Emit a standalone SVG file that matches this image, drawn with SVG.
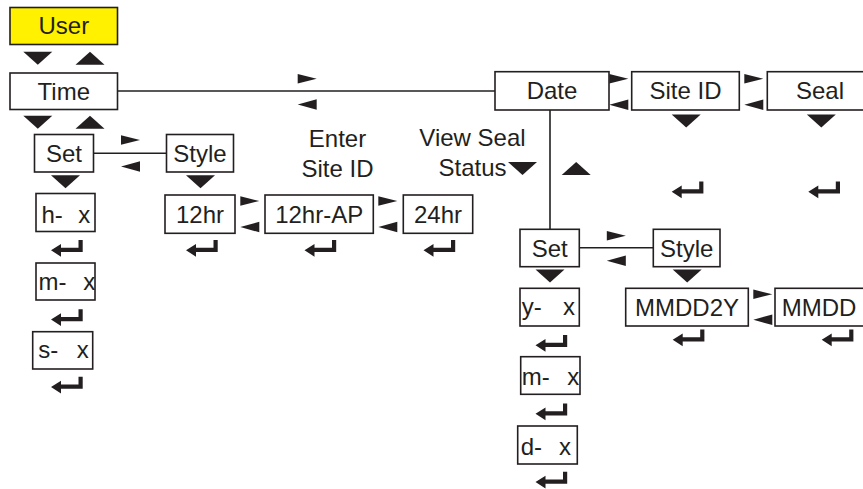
<svg xmlns="http://www.w3.org/2000/svg" width="863" height="489" viewBox="0 0 863 489">
<style>
  .box { fill: #ffffff; stroke: #231f20; stroke-width: 1.6; }
  .hl { fill: #fff100; }
  .t { font-family: "Liberation Sans", Arial, sans-serif; font-size: 24px; fill: #231f20; }
  .c { text-anchor: middle; }
  .ln { stroke: #231f20; stroke-width: 1.6; fill: none; }
  .tri { fill: #231f20; }
</style>
<defs>
  <path id="ret" d="M0,10.3 L10,4 L10,7.8 L27.5,7.8 L27.5,0 L31.7,0 L31.7,12 L10,12 L10,16.7 Z" fill="#231f20"/>
  <path id="dn" d="M0,0 L29,0 L14.5,13 Z" fill="#231f20"/>
  <path id="up" d="M0,13 L29,13 L14.5,0 Z" fill="#231f20"/>
  <path id="rt" d="M0,0 L19,4.75 L0,9.5 Z" fill="#231f20"/>
  <path id="lt" d="M19,0 L0,5.25 L19,10.5 Z" fill="#231f20"/>
</defs>

<g id="connectors">
  <line class="ln" x1="117.7" y1="91" x2="495" y2="91"/>
  <line class="ln" x1="93.5" y1="153.3" x2="166.5" y2="153.3"/>
  <line class="ln" x1="550" y1="110" x2="550" y2="229.3"/>
  <line class="ln" x1="579.3" y1="247.7" x2="653.3" y2="247.7"/>
</g>

<g id="indicators">
  <!-- vertical navigation triangles -->
  <use href="#dn" x="23.3" y="51.7"/>
  <use href="#up" x="75.5" y="51.7"/>
  <use href="#dn" x="23.3" y="115.7"/>
  <use href="#up" x="75.5" y="115.7"/>
  <use href="#dn" x="51" y="175.3"/>
  <use href="#dn" x="186" y="175.3"/>
  <use href="#dn" x="671.7" y="114.5"/>
  <use href="#dn" x="806.8" y="114.5"/>
  <use href="#dn" x="508" y="162"/>
  <use href="#up" x="561.7" y="162"/>
  <use href="#dn" x="535.5" y="269.5"/>
  <use href="#dn" x="672.7" y="269.5"/>
  <!-- horizontal navigation arrows -->
  <use href="#rt" x="297.7" y="74"/>
  <use href="#lt" x="297.7" y="99.3"/>
  <use href="#rt" x="121" y="135.3"/>
  <use href="#lt" x="121" y="161.2"/>
  <use href="#rt" x="240.3" y="196.2"/>
  <use href="#lt" x="240.3" y="221.8"/>
  <use href="#rt" x="378.3" y="196.2"/>
  <use href="#lt" x="378.3" y="221.8"/>
  <use href="#rt" x="609.3" y="74"/>
  <use href="#lt" x="609.3" y="99.5"/>
  <use href="#rt" x="744.3" y="74"/>
  <use href="#lt" x="744.3" y="99.5"/>
  <use href="#rt" x="606.8" y="231"/>
  <use href="#lt" x="606.8" y="255.5"/>
  <use href="#rt" x="753.3" y="289.5"/>
  <use href="#lt" x="753.3" y="314.5"/>
  <!-- enter (return) symbols -->
  <use href="#ret" x="51" y="240"/>
  <use href="#ret" x="51" y="309.3"/>
  <use href="#ret" x="51" y="376.7"/>
  <use href="#ret" x="186" y="240"/>
  <use href="#ret" x="304.5" y="240"/>
  <use href="#ret" x="423.5" y="240"/>
  <use href="#ret" x="671.7" y="181.5"/>
  <use href="#ret" x="808.3" y="181.5"/>
  <use href="#ret" x="672.7" y="329.5"/>
  <use href="#ret" x="821.7" y="329.5"/>
  <use href="#ret" x="535.5" y="335"/>
  <use href="#ret" x="535.5" y="403.5"/>
  <use href="#ret" x="535.5" y="471.7"/>
</g>

<g id="labels">
  <text class="t c" x="337.5" y="147.3">Enter</text>
  <text class="t c" x="337.5" y="176.5">Site ID</text>
  <text class="t c" x="472.5" y="146">View Seal</text>
  <text class="t c" x="472.5" y="175.5">Status</text>
</g>

<g id="node-user">
  <rect class="box hl" x="10" y="7.5" width="107.5" height="37"/>
  <text class="t c" x="63.8" y="33.5">User</text>
</g>
<g id="node-time">
  <rect class="box" x="10" y="73" width="107.5" height="36.5"/>
  <text class="t c" x="63.8" y="100">Time</text>
</g>
<g id="node-time-set">
  <rect class="box" x="34.5" y="134.5" width="59" height="37.5"/>
  <text class="t c" x="64" y="161.7">Set</text>
</g>
<g id="node-time-style">
  <rect class="box" x="166.5" y="134.5" width="67" height="37.5"/>
  <text class="t c" x="200" y="161.7">Style</text>
</g>
<g id="node-h">
  <rect class="box" x="36" y="193.5" width="59" height="38"/>
  <text class="t" x="41.5" y="222.8" xml:space="preserve">h-  <tspan x="78.3">x</tspan></text>
</g>
<g id="node-m">
  <rect class="box" x="36" y="263" width="59" height="37"/>
  <text class="t" x="38.5" y="290" xml:space="preserve">m-  <tspan x="83.3">x</tspan></text>
</g>
<g id="node-s">
  <rect class="box" x="32.7" y="331.7" width="60" height="37.3"/>
  <text class="t" x="38.3" y="358.3" xml:space="preserve">s-  <tspan x="76.7">x</tspan></text>
</g>
<g id="node-12hr">
  <rect class="box" x="165" y="195" width="70" height="38.3"/>
  <text class="t c" x="200" y="222.7">12hr</text>
</g>
<g id="node-12hr-ap">
  <rect class="box" x="265" y="195" width="108.3" height="38.3"/>
  <text class="t c" x="319.2" y="222.7">12hr-AP</text>
</g>
<g id="node-24hr">
  <rect class="box" x="403.3" y="195" width="69.4" height="38.3"/>
  <text class="t c" x="438" y="222.7">24hr</text>
</g>
<g id="node-date">
  <rect class="box" x="495" y="71.7" width="114" height="38.3"/>
  <text class="t c" x="552" y="98.5">Date</text>
</g>
<g id="node-siteid">
  <rect class="box" x="631.7" y="71.7" width="107.6" height="38.3"/>
  <text class="t c" x="685.5" y="98.5">Site ID</text>
</g>
<g id="node-seal">
  <rect class="box" x="767.3" y="71.7" width="107" height="38.3"/>
  <text class="t c" x="820" y="98.5">Seal</text>
</g>
<g id="node-date-set">
  <rect class="box" x="520" y="229.3" width="59.3" height="37.4"/>
  <text class="t c" x="549.7" y="256.7">Set</text>
</g>
<g id="node-date-style">
  <rect class="box" x="653.3" y="229.3" width="66.7" height="37.4"/>
  <text class="t c" x="686.7" y="256.7">Style</text>
</g>
<g id="node-y">
  <rect class="box" x="520" y="288.3" width="59.3" height="37.7"/>
  <text class="t" x="521.7" y="315" xml:space="preserve">y-  <tspan x="563">x</tspan></text>
</g>
<g id="node-dm">
  <rect class="box" x="520.7" y="356.7" width="59.3" height="37.6"/>
  <text class="t" x="521.7" y="385" xml:space="preserve">m-  <tspan x="567.3">x</tspan></text>
</g>
<g id="node-d">
  <rect class="box" x="517.7" y="426" width="59.6" height="38"/>
  <text class="t" x="520.7" y="455" xml:space="preserve">d-  <tspan x="559">x</tspan></text>
</g>
<g id="node-mmdd2y">
  <rect class="box" x="625.7" y="288.3" width="122.6" height="37.7"/>
  <text class="t c" x="687" y="315.7">MMDD2Y</text>
</g>
<g id="node-mmdd">
  <rect class="box" x="775" y="288.3" width="92" height="37.7"/>
  <text class="t" x="781.7" y="315.7">MMDD</text>
</g>
</svg>
